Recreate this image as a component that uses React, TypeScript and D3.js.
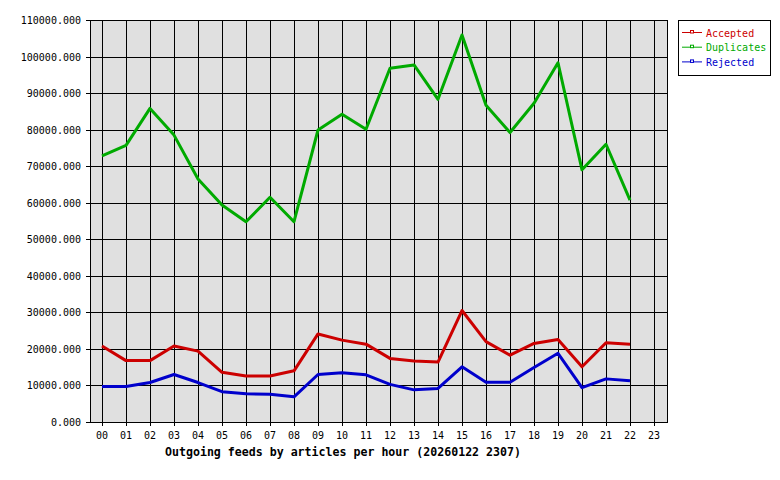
import React from "react";
import * as d3 from "d3";

const hours = ["00","01","02","03","04","05","06","07","08","09","10","11","12","13","14","15","16","17","18","19","20","21","22","23"];
const accepted = [20800,16800,16800,20800,19400,13600,12600,12600,14000,24100,22400,21300,17400,16700,16400,30500,22000,18300,21500,22600,15100,21700,21300];
const duplicates = [72800,75700,85800,78500,66500,59400,54800,61500,54800,79900,84200,80100,96800,97700,88300,105900,86700,79200,87200,98300,69000,76000,60700];
const rejected = [9700,9700,10800,13000,10800,8300,7700,7600,6900,13000,13500,12900,10300,8800,9200,15100,10900,10900,14900,18800,9400,11800,11300];
const yTicks = [0,10000,20000,30000,40000,50000,60000,70000,80000,90000,100000,110000];
const seriesNames = ["Accepted","Duplicates","Rejected"];
const seriesColors = ["#cc0000","#00aa00","#0000cc"];

export default function App() {
  const W = 780, H = 480;
  const left = 90, right = 668, top = 20, bottom = 422;
  const x = d3.scalePoint<string>().domain(hours).range([102, 654]);
  const y = d3.scaleLinear().domain([0, 110000]).range([bottom, top]);
  const line = d3.line<number>().x((_, i) => x(hours[i])!).y(d => y(d));
  const data = [accepted, duplicates, rejected];
  const font = "'DejaVu Sans Mono', monospace";
  return (
    <svg width={W} height={H} style={{ position: "absolute", left: 0, top: 0, background: "#fff" }}>
      <rect x={left} y={top} width={right - left} height={bottom - top} fill="#e0e0e0" />
      <g shapeRendering="crispEdges" stroke="#000" strokeWidth={1}>
        {yTicks.map(t => (
          <line key={"h" + t} x1={left - 4} x2={right} y1={Math.round(y(t)) + 0.5} y2={Math.round(y(t)) + 0.5} />
        ))}
        {hours.map(h => (
          <line key={"v" + h} x1={Math.round(x(h)!) + 0.5} x2={Math.round(x(h)!) + 0.5} y1={top} y2={bottom + 4} />
        ))}
        <rect x={left + 0.5} y={top + 0.5} width={right - left - 1} height={bottom - top} fill="none" />
      </g>
      {yTicks.map(t => (
        <text key={"yl" + t} x={81} y={y(t) + 4} textAnchor="end" fontFamily={font} fontSize={10}>{d3.format(".3f")(t)}</text>
      ))}
      {hours.map(h => (
        <text key={"xl" + h} x={x(h)!} y={439} textAnchor="middle" fontFamily={font} fontSize={10}>{h}</text>
      ))}
      <text x={343} y={456} textAnchor="middle" fontFamily={font} fontSize={11.6} fontWeight="bold">Outgoing feeds by articles per hour (20260122 2307)</text>
      {data.map((d, i) => (
        <path key={"s" + i} d={line(d)!} fill="none" stroke={seriesColors[i]} strokeWidth={3} strokeLinejoin="round" />
      ))}
      <rect x={678.5} y={20.5} width={92} height={55} fill="#fff" stroke="#000" strokeWidth={1} shapeRendering="crispEdges" />
      {seriesNames.map((n, i) => {
        const ly = 32.5 + i * 14.7;
        return (
          <g key={"lg" + n}>
            <line x1={682} x2={702} y1={ly} y2={ly} stroke={seriesColors[i]} strokeWidth={1} />
            <rect x={690.5} y={ly - 2} width={3} height={2.5} fill="#fff" stroke={seriesColors[i]} strokeWidth={1} />
            <text x={706} y={ly + 4} fontFamily={font} fontSize={10} fill={seriesColors[i]}>{n}</text>
          </g>
        );
      })}
    </svg>
  );
}
